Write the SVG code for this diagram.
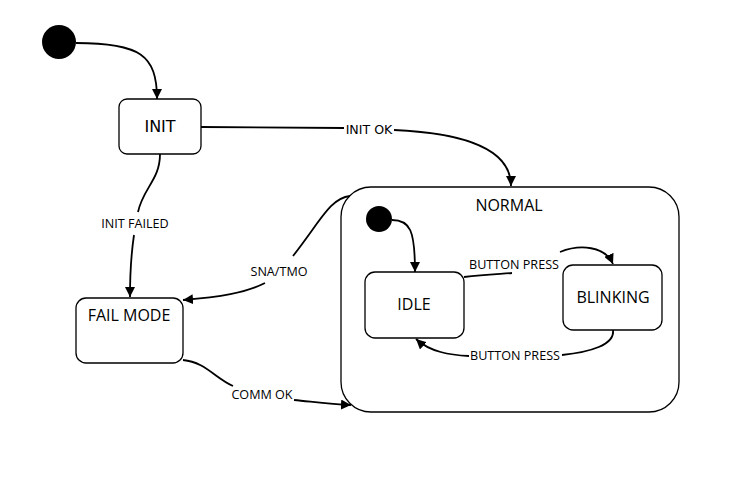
<svg xmlns="http://www.w3.org/2000/svg" width="744" height="484" viewBox="0 0 744 484">
<style>
.box{fill:#fff;stroke:#000;stroke-width:1.3}
.edge{fill:none;stroke:#000;stroke-width:1.8}
.lbl{font-family:"Open Sans","Noto Sans",sans-serif;font-size:12.6px;fill:#000;text-anchor:middle}
.name{font-family:"Open Sans","Noto Sans",sans-serif;font-size:16px;fill:#000;text-anchor:middle}
.dv{font-family:"DejaVu Sans",sans-serif}
</style>
<defs>
<marker id="arr" viewBox="0 0 10 10" refX="10" refY="5" markerWidth="10" markerHeight="10" markerUnits="userSpaceOnUse" orient="auto">
<path d="M0,0 L10,5 L0,10 Z" fill="#000"/>
</marker>
</defs>
<rect width="744" height="484" fill="#fff"/>
<g id="normal">
<rect class="box" x="341" y="187" width="338" height="225" rx="30"/>
<text class="name" x="509" y="211">NORMAL</text>
</g>
<g id="init-start"><circle cx="59" cy="42" r="17" fill="#000"/></g>
<g id="init">
<rect class="box" x="119" y="99" width="82" height="55" rx="8"/>
<text class="name dv" x="160" y="132" font-size="15">INIT</text>
</g>
<g id="failmode">
<rect class="box" x="76" y="298" width="107" height="65" rx="10"/>
<text class="name" x="129" y="321">FAIL MODE</text>
</g>
<g id="normal-start"><circle cx="379" cy="219" r="13" fill="#000"/></g>
<g id="idle">
<rect class="box" x="365" y="272" width="99" height="66" rx="10"/>
<text class="name" x="414" y="310">IDLE</text>
</g>
<g id="blinking">
<rect class="box" x="563" y="265" width="99" height="65" rx="10"/>
<text class="name" x="613" y="303">BLINKING</text>
</g>
<g id="connectors">
<path class="edge" d="M76,43 C140,43 157,55 157,99" marker-end="url(#arr)"/>
<path class="edge" d="M201,127 L344,128"/>
<path class="edge" d="M394,130 C440,132 511,140 511,186" marker-end="url(#arr)"/>
<path class="edge" d="M160,154 C160,180 143,188 138,212"/>
<path class="edge" d="M134,235 C131,255 130,270 130,297" marker-end="url(#arr)"/>
<path class="edge" d="M350,196 C330,198 320,222 293,256"/>
<path class="edge" d="M265,283 C245,293 220,297 183,300" marker-end="url(#arr)"/>
<path class="edge" d="M183,360 C205,362 215,378 233,386"/>
<path class="edge" d="M294,400 C315,402 330,404 351,405" marker-end="url(#arr)"/>
<path class="edge" d="M392,220 C410,220 415,230 415,272" marker-end="url(#arr)"/>
<path class="edge" d="M464,277 C485,275 500,274 512,273"/>
<path class="edge" d="M560,252 C580,244 605,246 613,264" marker-end="url(#arr)"/>
<path class="edge" d="M613,330 C615,345 590,352 562,355"/>
<path class="edge" d="M469,356 C450,355 430,352 416,339" marker-end="url(#arr)"/>
<text class="lbl dv" x="369" y="134" font-size="12.5">INIT OK</text>
<text class="lbl" x="135" y="228">INIT FAILED</text>
<text class="lbl" x="279" y="276">SNA/TMO</text>
<text class="lbl" x="262" y="399">COMM OK</text>
<text class="lbl" x="514" y="269">BUTTON PRESS</text>
<text class="lbl" x="515" y="360">BUTTON PRESS</text>
</g>
</svg>
